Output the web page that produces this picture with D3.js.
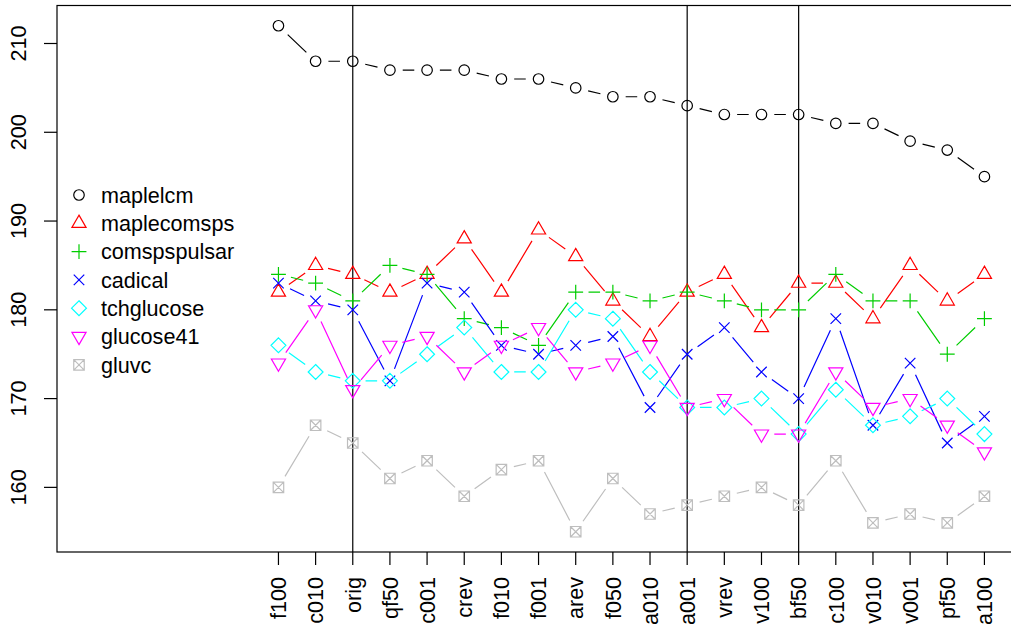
<!DOCTYPE html>
<html><head><meta charset="utf-8">
<script src="https://cdn.jsdelivr.net/npm/d3@7"></script>
<style>
body{margin:0;background:#fff}
svg{display:block}
text{font-family:"Liberation Sans",Arial,Helvetica,sans-serif}
</style>
</head><body>
<svg id="c" width="1011" height="631"></svg>
<script>
const categories = ["f100","c010","orig","qf50","c001","crev","f010","f001","arev","f050","a010","a001","vrev","v100","bf50","c100","v010","v001","pf50","a100"];
const maplelcm     = [212,208,208,207,207,207,206,206,205,204,204,203,202,202,202,201,201,199,198,195];
const maplecomsps  = [182,185,184,182,184,188,182,189,186,181,177,182,184,178,183,183,179,185,181,184];
const comspspulsar = [184,183,181,185,184,179,178,176,182,182,181,182,181,180,180,184,181,181,175,179];
const cadical      = [183,181,180,172,183,182,176,175,176,177,169,175,178,173,170,179,167,174,165,168];
const tchglucose   = [176,173,172,172,175,178,173,173,180,179,173,169,169,170,166,171,167,168,170,166];
const glucose41    = [174,180,171,176,177,173,176,178,173,174,176,169,170,166,166,173,169,170,167,164];
const gluvc        = [160,167,165,161,163,159,162,163,155,161,157,158,159,160,158,163,156,157,156,159];
const seriesNames  = ["maplelcm","maplecomsps","comspspulsar","cadical","tchglucose","glucose41","gluvc"];
const seriesValues = [maplelcm,maplecomsps,comspspulsar,cadical,tchglucose,glucose41,gluvc];
const seriesColors = ["#000000","#FF0000","#00CD00","#0000FF","#00FFFF","#FF00FF","#BEBEBE"];
const seriesShapes = ["circle","triUp","plus","cross","diamond","triDown","boxX"];
const yTicks = [160,170,180,190,200,210];
const vLines = ["orig","a001","bf50"];

(function () {
const svg = d3.select("#c");
const FS = 21.6;
const pLeft = 57, pTop = 5.5, pBottom = 552, pRight = 1020.1;
const x = d3.scaleLinear().domain([-4.96, 20.96]).range([pLeft, pRight]);
const y = d3.scaleLinear().domain([152.72, 214.28]).range([pBottom, pTop]);
const xi = i => x(i + 1);

function marker(p, shape, cx, cy, s) {
  const r3 = Math.sqrt(3);
  if (shape === "circle") { p.moveTo(cx + s, cy); p.arc(cx, cy, s, 0, 2*Math.PI); }
  else if (shape === "triUp" || shape === "triDown") {
    const r = 1.5551 * s, xc = r * r3 / 2, yc = r / 2, sg = shape === "triUp" ? 1 : -1;
    p.moveTo(cx, cy - sg*r); p.lineTo(cx + xc, cy + sg*yc); p.lineTo(cx - xc, cy + sg*yc); p.closePath();
  }
  else if (shape === "plus") { const a = Math.SQRT2 * s; p.moveTo(cx - a, cy); p.lineTo(cx + a, cy); p.moveTo(cx, cy - a); p.lineTo(cx, cy + a); }
  else if (shape === "cross") { p.moveTo(cx - s, cy - s); p.lineTo(cx + s, cy + s); p.moveTo(cx - s, cy + s); p.lineTo(cx + s, cy - s); }
  else if (shape === "diamond") { const a = Math.SQRT2 * s; p.moveTo(cx, cy - a); p.lineTo(cx + a, cy); p.lineTo(cx, cy + a); p.lineTo(cx - a, cy); p.closePath(); }
  else if (shape === "boxX") { p.rect(cx - s, cy - s, 2*s, 2*s); p.moveTo(cx - s, cy - s); p.lineTo(cx + s, cy + s); p.moveTo(cx - s, cy + s); p.lineTo(cx + s, cy - s); }
  return p;
}
const S = 5.25, GAP = 12.8;

vLines.forEach(c => {
  const xv = xi(categories.indexOf(c));
  svg.append("line").attr("x1", xv).attr("x2", xv).attr("y1", pTop).attr("y2", pBottom)
    .attr("stroke", "#000").attr("stroke-width", 1.2);
});

seriesValues.forEach((vals, k) => {
  const g = svg.append("g");
  const pts = vals.map((v, i) => [xi(i), y(v)]);
  const lp = d3.path();
  for (let i = 1; i < pts.length; i++) {
    const [x0, y0] = pts[i-1], [x1, y1] = pts[i];
    const L = Math.hypot(x1 - x0, y1 - y0);
    if (L > 2 * GAP) {
      const ux = (x1 - x0) / L, uy = (y1 - y0) / L;
      lp.moveTo(x0 + ux*GAP, y0 + uy*GAP); lp.lineTo(x1 - ux*GAP, y1 - uy*GAP);
    }
  }
  g.append("path").attr("d", lp.toString()).attr("fill", "none")
    .attr("stroke", seriesColors[k]).attr("stroke-width", 1.2);
  const mp = d3.path();
  pts.forEach(([px, py]) => marker(mp, seriesShapes[k], px, py, S));
  g.append("path").attr("d", mp.toString()).attr("fill", "none")
    .attr("stroke", seriesColors[k]).attr("stroke-width", 1.2);
});

svg.append("rect").attr("x", pLeft).attr("y", pTop).attr("width", pRight - pLeft).attr("height", pBottom - pTop)
  .attr("fill", "none").attr("stroke", "#000").attr("stroke-width", 1.2);

const ya = svg.append("g");
yTicks.forEach(t => {
  ya.append("line").attr("x1", pLeft - 13).attr("x2", pLeft).attr("y1", y(t)).attr("y2", y(t))
    .attr("stroke", "#000").attr("stroke-width", 1.2);
  ya.append("text").attr("transform", `translate(26,${y(t)}) rotate(-90)`)
    .attr("text-anchor", "middle").attr("font-size", FS).attr("fill", "#000").text(t);
});

const xa = svg.append("g");
categories.forEach((c, i) => {
  const xv = xi(i);
  xa.append("line").attr("x1", xv).attr("x2", xv).attr("y1", pBottom).attr("y2", pBottom + 13)
    .attr("stroke", "#000").attr("stroke-width", 1.2);
  xa.append("text").attr("transform", `translate(${xv},${pBottom + 25}) rotate(-90)`)
    .attr("text-anchor", "end").attr("dy", "0.36em").attr("font-size", FS).attr("fill", "#000").text(c);
});

const lg = svg.append("g");
seriesNames.forEach((n, k) => {
  const ly = 195 + k * 28.3;
  const mp = marker(d3.path(), seriesShapes[k], 79, ly, S);
  lg.append("path").attr("d", mp.toString()).attr("fill", "none")
    .attr("stroke", seriesColors[k]).attr("stroke-width", 1.2);
  lg.append("text").attr("x", 101).attr("y", ly).attr("dy", "0.36em")
    .attr("font-size", FS).attr("fill", "#000").text(n);
});
})();
</script>
</body></html>
